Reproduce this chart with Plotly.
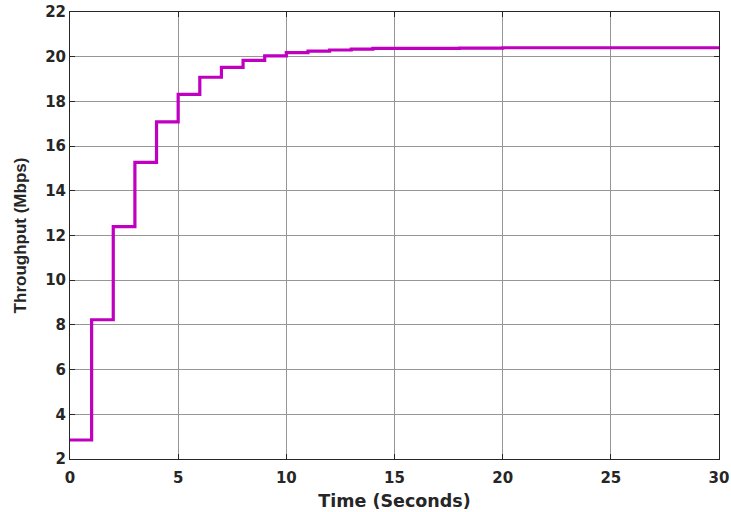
import plotly.graph_objects as go

# Throughput sampled once per second (held constant between samples)
time_s = list(range(0, 31))
throughput_mbps = [
    2.85, 8.23, 12.40, 15.27, 17.08, 18.31, 19.08, 19.52, 19.84, 20.04,
    20.18, 20.25, 20.30, 20.34, 20.37, 20.37, 20.37, 20.37, 20.38, 20.38,
    20.40, 20.40, 20.40, 20.40, 20.40, 20.40, 20.40, 20.40, 20.40, 20.40,
    20.40,
]

x_ticks = [0, 5, 10, 15, 20, 25, 30]
y_ticks = [2, 4, 6, 8, 10, 12, 14, 16, 18, 20, 22]

tick_font = dict(family="DejaVu Sans", size=15, color="#262626", weight="bold")

fig = go.Figure()
fig.add_trace(go.Scatter(
    x=time_s, y=throughput_mbps,
    mode="lines", line=dict(color="rgb(192,0,192)", width=3.2, shape="hv"),
    showlegend=False,
))

axis_common = dict(
    showline=True, linecolor="#262626", linewidth=1, mirror="ticks",
    ticks="inside", ticklen=5, tickcolor="#262626", tickwidth=1,
    showgrid=True, gridcolor="rgb(150,150,150)", gridwidth=1,
    zeroline=False, tickfont=tick_font, automargin=False,
)

fig.update_xaxes(
    range=[0, 30], tickvals=x_ticks, ticklabelstandoff=5,
    title=dict(text="Time (Seconds)", standoff=8,
               font=dict(family="DejaVu Sans", size=17.5, color="#262626", weight="bold")),
    **axis_common,
)
fig.update_yaxes(
    range=[2, 22], tickvals=y_ticks,
    title=dict(text="Throughput (Mbps)", standoff=14,
               font=dict(family="Liberation Sans", size=17, color="#262626", weight="bold")),
    **axis_common,
)

fig.update_layout(
    width=731, height=512,
    margin=dict(l=70, r=12, t=12, b=53),
    plot_bgcolor="white", paper_bgcolor="white",
)

fig.write_html("out.html")
